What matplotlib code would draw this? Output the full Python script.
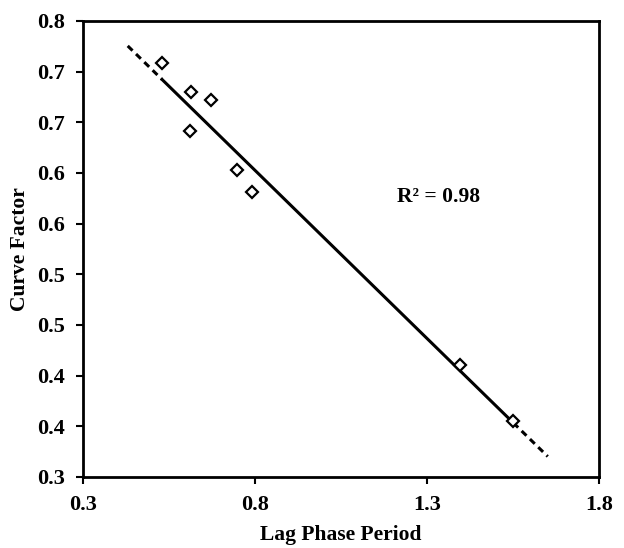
import matplotlib.pyplot as plt
import numpy as np

# data
lag_phase = [0.530, 0.614, 0.672, 0.611, 0.747, 0.790, 1.396, 1.551]
curve_factor = [0.7085, 0.680, 0.672, 0.641, 0.603, 0.581, 0.4105, 0.3556]

x_ticks = [0.3, 0.8, 1.3, 1.8]
y_ticks = [0.30, 0.35, 0.40, 0.45, 0.50, 0.55, 0.60, 0.65, 0.70, 0.75]
y_tick_labels = ["0.3", "0.4", "0.4", "0.5", "0.5", "0.6", "0.6", "0.7", "0.7", "0.8"]

plt.rcParams['font.family'] = ['Liberation Serif', 'DejaVu Serif']
plt.rcParams['font.weight'] = 'bold'

fig = plt.figure(figsize=(6.24, 5.48), dpi=100)
ax = fig.add_axes([83 / 624, 1 - 477 / 548, 516 / 624, 456 / 548])

# linear trend line, solid over the data, dashed forecast on both ends
x = np.array(lag_phase)
y = np.array(curve_factor)
slope, intercept = np.polyfit(x, y, 1)
xs = np.array([x.min(), x.max()])
ax.plot(xs, slope * xs + intercept, color='black', lw=2.2, zorder=2)
xb = np.array([x.min() - 0.1, x.min()])
xf = np.array([x.max(), x.max() + 0.1])
for seg in (xb, xf):
    ax.plot(seg, slope * seg + intercept, color='black', lw=2.2,
            ls=(0, (2.2, 1.6)), zorder=2)

ax.plot(lag_phase, curve_factor, ls='none', marker='D', ms=6.5,
        mfc='white', mec='black', mew=1.6, zorder=3)

ax.set_xlim(0.3, 1.8)
ax.set_ylim(0.30, 0.75)
ax.set_xticks(x_ticks)
ax.set_xticklabels([str(t) for t in x_ticks])
ax.set_yticks(y_ticks)
ax.set_yticklabels(y_tick_labels)
ax.tick_params(labelsize=16, width=1.5, length=5, direction='out')
ax.tick_params(axis='x', pad=8)
ax.tick_params(axis='y', pad=8)

for s in ax.spines.values():
    s.set_linewidth(2)

ax.text(0.69, 0.615, "R² = 0.98", transform=ax.transAxes, fontsize=15.5,
        fontweight='bold', ha='center', va='center')

ax.set_xlabel("Lag Phase Period", fontsize=15.5, fontweight='bold', labelpad=7)
ax.set_ylabel("Curve Factor", fontsize=15.5, fontweight='bold', labelpad=5)

fig.savefig("out.png", dpi=100)
